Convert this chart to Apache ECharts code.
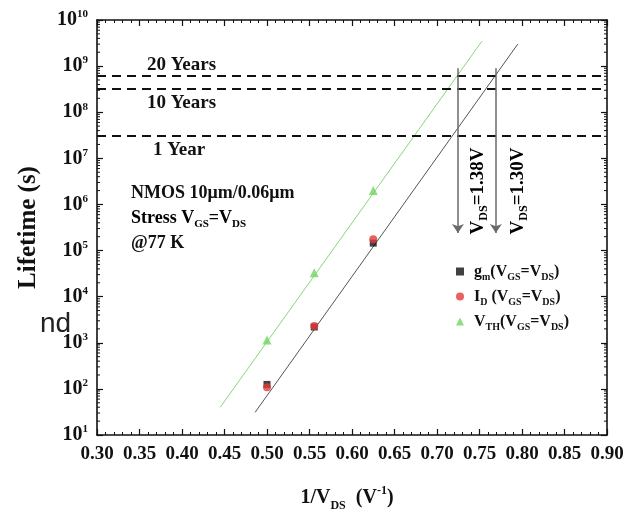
<!DOCTYPE html>
<html><head><meta charset="utf-8">
<script src="https://cdn.jsdelivr.net/npm/echarts@6/dist/echarts.min.js"></script>
<style>html,body{margin:0;padding:0;background:#fff}#c{width:636px;height:512px}</style>
</head><body><div id="c"></div>
<script>
// ---- data ----
const invVds = [0.5, 0.5556, 0.625];
const gmLife = [125, 2200, 145000];
const idLife = [108, 2300, 175000];
const vthLife = [1150, 33000, 2000000];
const gmFitX = [0.486, 0.795];
const gmFitY = [31, 3.0e9];
const vthFitX = [0.445, 0.753];
const vthFitY = [40, 3.5e9];
const lifetimeLevels = [6.3e8, 3.15e8, 3.15e7];
const levelLabels = ['20 Years', '10 Years', '1 Year'];
const arrowVds = [1.38, 1.30];
const arrowTop = 9e8, arrowBottom = 2.4e5;
const xMin = 0.30, xMax = 0.90, xStep = 0.05;
const yMin = 10, yMax = 1e10;

const serif = 'Liberation Serif';
const zip = (a, b) => a.map((v, i) => [v, b[i]]);

const minorVals = [];
for (let e = 1; e < 10; e++) for (let m = 2; m <= 9; m++) minorVals.push([xMin, m * Math.pow(10, e)]);

// rich text helpers: main token + subscript token pushed down by padding, superscript aligned to top
function richSet(main, sub, lh, subDrop) {
  return {
    t: {fontFamily: serif, fontWeight: 'bold', fontSize: main, color: '#111', lineHeight: lh},
    sb: {fontFamily: serif, fontWeight: 'bold', fontSize: sub, color: '#111', lineHeight: lh,
         padding: [Math.round(lh / 2 - sub * 0.55 + subDrop), 0, 0, 0]},
    sp: {fontFamily: serif, fontWeight: 'bold', fontSize: sub, color: '#111', lineHeight: sub + 2,
         verticalAlign: 'top'}
  };
}
const legendNames = {
  gm: '{t|g}{sb|m}{t|(V}{sb|GS}{t|=V}{sb|DS}{t|)}',
  ID: '{t|I}{sb|D}{t| (V}{sb|GS}{t|=V}{sb|DS}{t|)}',
  VTH: '{t|V}{sb|TH}{t|(V}{sb|GS}{t|=V}{sb|DS}{t|)}'
};

const axisCommon = {
  axisLine: {show: true, onZero: false, lineStyle: {color: '#111', width: 1.6}},
  axisTick: {show: true, inside: true, length: 6, lineStyle: {color: '#111', width: 1.2}},
  splitLine: {show: false}
};

const chart = echarts.init(document.getElementById('c'), null, {renderer: 'canvas'});
const annText = (txt, x, y, size) => ({
  type: 'text', x: x, y: y,
  style: {text: txt, fontFamily: serif, fontWeight: 'bold', fontSize: size, fill: '#111', verticalAlign: 'middle', align: 'left'}
});
chart.setOption({
  animation: false,
  backgroundColor: '#fff',
  grid: {left: 97, right: 29, top: 20, bottom: 77, containLabel: false, outerBoundsMode: 'none'},
  xAxis: [
    Object.assign({}, axisCommon, {
      type: 'value', min: xMin, max: xMax, interval: xStep, position: 'bottom',
      minorTick: {show: true, splitNumber: 5, length: 3, lineStyle: {color: '#111', width: 1}},
      axisLabel: {color: '#111', fontFamily: serif, fontWeight: 'bold', fontSize: 19, margin: 10,
        formatter: v => v.toFixed(2)},
      name: '{t|1/V}{sb|DS}{t|  (V}{sp|-1}{t|)}', nameLocation: 'middle', nameGap: 50,
      nameTextStyle: {rich: richSet(20, 12, 26, 9), padding: [0, 10, 0, 0]}
    }),
    Object.assign({}, axisCommon, {
      type: 'value', min: xMin, max: xMax, interval: xStep, position: 'top',
      minorTick: {show: true, splitNumber: 5, length: 3, lineStyle: {color: '#111', width: 1}},
      axisLabel: {show: false}
    })
  ],
  yAxis: [
    Object.assign({}, axisCommon, {
      type: 'log', logBase: 10, min: yMin, max: yMax, interval: 1, position: 'left',
      axisLabel: {color: '#111', margin: 9,
        formatter: v => '{b|10}{s|' + Math.round(Math.log10(v)) + '}',
        rich: {
          b: {fontFamily: serif, fontWeight: 'bold', fontSize: 20, color: '#111', lineHeight: 22},
          s: {fontFamily: serif, fontWeight: 'bold', fontSize: 11, color: '#111', verticalAlign: 'top', lineHeight: 14}
        }},
      name: 'Lifetime (s)', nameLocation: 'middle', nameGap: 56, nameRotate: 90,
      nameTextStyle: {fontFamily: serif, fontWeight: 'bold', fontSize: 25, color: '#111'}
    }),
    Object.assign({}, axisCommon, {
      type: 'log', logBase: 10, min: yMin, max: yMax, interval: 1, position: 'right',
      axisLabel: {show: false}
    })
  ],
  legend: {
    data: ['gm', 'ID', 'VTH'], orient: 'vertical', left: 451, top: 256,
    itemWidth: 8, itemHeight: 8, itemGap: 4,
    formatter: n => legendNames[n],
    textStyle: {rich: richSet(16, 10, 22, 5), padding: [0, 0, 0, 5]}
  },
  series: [
    {name: 'gmfit', type: 'line', data: zip(gmFitX, gmFitY), showSymbol: false, symbol: 'none',
     lineStyle: {color: '#555', width: 1}, silent: true, z: 2},
    {name: 'vthfit', type: 'line', data: zip(vthFitX, vthFitY), showSymbol: false, symbol: 'none',
     lineStyle: {color: '#86d977', width: 1}, silent: true, z: 2},
    {name: 'levels', type: 'line', data: [], markLine: {
      silent: true, symbol: 'none', label: {show: false},
      lineStyle: {color: '#111', width: 2, type: [9, 6]},
      data: lifetimeLevels.map(v => ({yAxis: v}))
    }},
    {name: 'arrows', type: 'line', data: [], markLine: {
      silent: true, symbol: ['none', 'arrow'], symbolSize: 9, label: {show: false},
      lineStyle: {color: '#6a6a6a', width: 1.5, type: 'solid'},
      itemStyle: {color: '#333'},
      data: arrowVds.map(v => [{coord: [1 / v, arrowTop]}, {coord: [1 / v, arrowBottom]}])
    }},
    {name: 'ticks', type: 'custom', data: minorVals, silent: true, clip: false,
     renderItem: (params, api) => {
       const v = api.value(1);
       const l = api.coord([xMin, v]);
       const r = api.coord([xMax, v]);
       return {type: 'group', children: [
         {type: 'line', shape: {x1: l[0], y1: l[1], x2: l[0] + 3, y2: l[1]}, style: {stroke: '#111', lineWidth: 1}},
         {type: 'line', shape: {x1: r[0], y1: r[1], x2: r[0] - 3, y2: r[1]}, style: {stroke: '#111', lineWidth: 1}}
       ]};
     }},
    {name: 'gm', type: 'scatter', data: zip(invVds, gmLife), symbol: 'rect', symbolSize: 7,
     itemStyle: {color: '#111'}, z: 3},
    {name: 'ID', type: 'scatter', data: zip(invVds, idLife), symbol: 'circle', symbolSize: 8,
     itemStyle: {color: '#e23b3b'}, z: 4},
    {name: 'VTH', type: 'scatter', data: zip(invVds, vthLife), symbol: 'triangle', symbolSize: 9,
     itemStyle: {color: '#6fd65f'}, z: 4}
  ],
  graphic: [
    annText(levelLabels[0], 147, 65, 19),
    annText(levelLabels[1], 147, 103, 19),
    annText(levelLabels[2], 153, 150, 19),
    annText('NMOS 10μm/0.06μm', 131, 193, 18),
    {type: 'text', x: 131, y: 218, style: {text: '{t|Stress V}{sb|GS}{t|=V}{sb|DS}', rich: richSet(18, 11, 24, 6),
      verticalAlign: 'middle', align: 'left'}},
    annText('@77 K', 131, 243, 18),
    {type: 'text', x: 478, y: 191, rotation: Math.PI / 2,
     style: {text: '{t|V}{sb|DS}{t|=' + arrowVds[0].toFixed(2) + 'V}', rich: richSet(19, 12, 24, 6), align: 'center', verticalAlign: 'middle'}},
    {type: 'text', x: 518, y: 191, rotation: Math.PI / 2,
     style: {text: '{t|V}{sb|DS}{t|=' + arrowVds[1].toFixed(2) + 'V}', rich: richSet(19, 12, 24, 6), align: 'center', verticalAlign: 'middle'}},
    {type: 'text', x: 40, y: 324, style: {text: 'nd', fontFamily: 'Liberation Sans', fontSize: 28, fill: '#222', verticalAlign: 'middle', align: 'left'}}
  ]
});
</script></body></html>
